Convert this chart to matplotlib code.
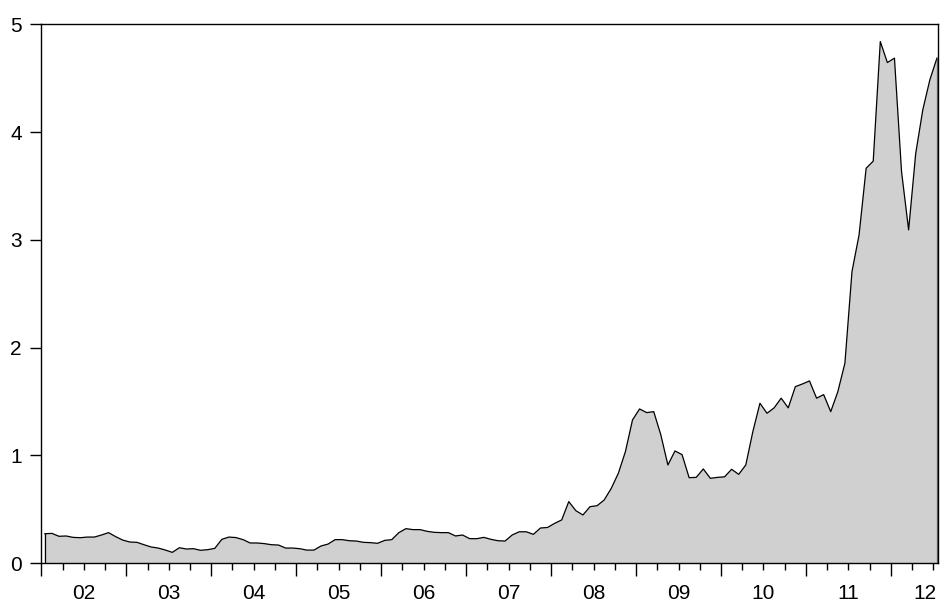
import numpy as np
import matplotlib
matplotlib.use("Agg")
import matplotlib.pyplot as plt
from matplotlib.transforms import blended_transform_factory

# Monthly series, Jan 2002 - Jul 2012
y2002 = [0.272, 0.275, 0.248, 0.251, 0.238, 0.235, 0.241, 0.241, 0.260, 0.282, 0.245, 0.213]
y2003 = [0.195, 0.192, 0.170, 0.149, 0.139, 0.121, 0.099, 0.142, 0.130, 0.133, 0.118, 0.124]
y2004 = [0.136, 0.220, 0.241, 0.236, 0.217, 0.186, 0.186, 0.180, 0.170, 0.167, 0.139, 0.139]
y2005 = [0.133, 0.120, 0.120, 0.158, 0.176, 0.217, 0.217, 0.207, 0.204, 0.192, 0.189, 0.183]
y2006 = [0.210, 0.217, 0.282, 0.319, 0.310, 0.310, 0.294, 0.285, 0.282, 0.282, 0.251, 0.260]
y2007 = [0.226, 0.226, 0.238, 0.220, 0.207, 0.204, 0.260, 0.290, 0.290, 0.266, 0.325, 0.330]
y2008 = [0.368, 0.400, 0.570, 0.486, 0.446, 0.523, 0.532, 0.585, 0.693, 0.833, 1.034, 1.328]
y2009 = [1.430, 1.396, 1.405, 1.190, 0.910, 1.040, 1.006, 0.792, 0.795, 0.873, 0.786, 0.795]
y2010 = [0.800, 0.870, 0.823, 0.910, 1.220, 1.483, 1.390, 1.440, 1.530, 1.440, 1.637, 1.662]
y2011 = [1.690, 1.530, 1.563, 1.405, 1.590, 1.854, 2.705, 3.045, 3.664, 3.730, 4.840, 4.645]
y2012 = [4.686, 3.633, 3.092, 3.800, 4.206, 4.485, 4.686]

year_labels = ["02", "03", "04", "05", "06", "07", "08", "09", "10", "11", "12"]
y_ticks = [0, 1, 2, 3, 4, 5]

values = np.array(y2002 + y2003 + y2004 + y2005 + y2006 + y2007 +
                  y2008 + y2009 + y2010 + y2011 + y2012)
t = np.arange(len(values))

plt.rcParams["font.family"] = ["Liberation Sans", "DejaVu Sans"]

fig = plt.figure(figsize=(9.43, 6.09), dpi=100)
ax = fig.add_axes([0.0438, 0.0755, 0.9509, 0.8846])

ax.fill_between(t, 0, values, facecolor="#d0d0d0", edgecolor="none", zorder=2)
ax.plot(t, values, color="black", lw=0.9, zorder=3)
ax.plot([t[0], t[0]], [0, values[0]], color="black", lw=0.9, zorder=3)
ax.plot([t[-1], t[-1]], [0, values[-1]], color="#555555", lw=0.9, zorder=3)

x_right = len(values) - 0.85
ax.set_xlim(-0.5, x_right)
ax.set_ylim(0, 5)

# Year boundaries as long ticks, quarters as short ticks
n_years = len(year_labels)
year_edges = [12 * k - 0.5 for k in range(n_years)]
quarter_edges = [12 * k + 3 * q - 0.5 for k in range(n_years) for q in (1, 2, 3)
                 if 12 * k + 3 * q - 0.5 < len(values)]
ax.set_xticks(year_edges)
ax.set_xticklabels([])
ax.set_xticks(quarter_edges, minor=True)
ax.tick_params(axis="x", which="major", length=9.5, width=1.0, direction="out")
ax.tick_params(axis="x", which="minor", length=5, width=1.0, direction="out")

# Year labels centred in each year, kept inside the plot's right edge
trans = blended_transform_factory(ax.transData, ax.transAxes)
for k, lab in enumerate(year_labels):
    xc = min(12 * k + 5.5, x_right - 1.9)
    ax.annotate(lab, xy=(xc, 0), xycoords=trans,
                xytext=(0, -15), textcoords="offset points",
                ha="center", va="top", fontsize=15)

ax.set_yticks(y_ticks)
ax.set_yticklabels([str(v) for v in y_ticks], fontsize=15)
ax.tick_params(axis="y", which="major", length=8, width=1.0, direction="out", pad=6)

for side in ["left", "right", "top", "bottom"]:
    ax.spines[side].set_linewidth(1.0)
    ax.spines[side].set_color("black")

fig.savefig("out.png", dpi=100)
